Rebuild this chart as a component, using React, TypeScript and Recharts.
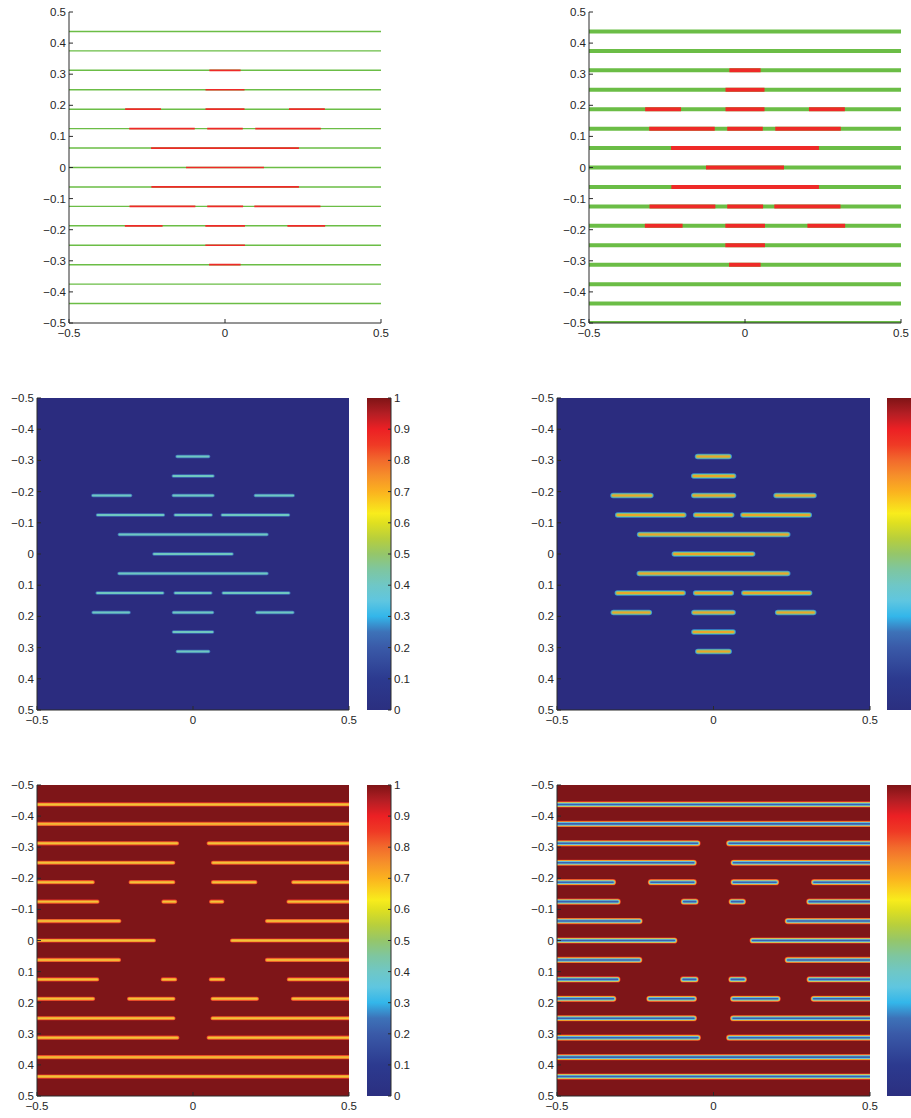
import React from 'react';
import { LineChart, Line, XAxis, YAxis, CartesianGrid } from 'recharts';

// ---- data ----
const rowY = [0.4375, 0.375, 0.3125, 0.25, 0.1875, 0.125, 0.0625, 0, -0.0625, -0.125, -0.1875, -0.25, -0.3125, -0.375, -0.4375];
const edgeRowY = [-0.5];
const segY = [0.3125, 0.25, 0.1875, 0.1875, 0.1875, 0.125, 0.125, 0.125, 0.0625, 0, -0.0625, -0.125, -0.125, -0.125, -0.1875, -0.1875, -0.1875, -0.25, -0.3125];
const segX0 = [-0.05, -0.0625, -0.32, -0.0625, 0.205, -0.307, -0.057, 0.097, -0.237, -0.125, -0.236, -0.306, -0.057, 0.094, -0.321, -0.063, 0.2, -0.063, -0.051];
const segX1 = [0.05, 0.0625, -0.205, 0.0625, 0.32, -0.097, 0.057, 0.307, 0.237, 0.125, 0.237, -0.095, 0.058, 0.306, -0.2, 0.064, 0.321, 0.064, 0.05];
const xTicks = [-0.5, 0, 0.5];
const yTicks = [-0.5, -0.4, -0.3, -0.2, -0.1, 0, 0.1, 0.2, 0.3, 0.4, 0.5];
const cbTicks = [0, 0.1, 0.2, 0.3, 0.4, 0.5, 0.6, 0.7, 0.8, 0.9, 1];
const jetOffsets = [0, 0.1, 0.2, 0.25, 0.3, 0.35, 0.4, 0.45, 0.5, 0.55, 0.6, 0.63, 0.7, 0.75, 0.8, 0.85, 0.9, 0.95, 1];
const jetColors = ['#2b2f80', '#2c3a8f', '#3a5aa8', '#3d72b8', '#33b6ea', '#5fc6e0', '#6fc7c6', '#7ec6a0', '#95c66a', '#b8cf3c', '#e0e020', '#f8ec1c', '#fbb21f', '#f6902a', '#f26a2c', '#ef3a25', '#ec2024', '#b41e24', '#7f1416'];

type Seg = { y: number; x0: number; x1: number };
const redSegs: Seg[] = segY.map((y, i) => ({ y, x0: segX0[i], x1: segX1[i] }));
const fullRows = (ys: number[]): Seg[] => ys.map((y) => ({ y, x0: -0.5, x1: 0.5 }));
const complement = (): Seg[] => {
  const out: Seg[] = [];
  rowY.forEach((y) => {
    const s = redSegs.filter((r) => r.y === y).sort((a, b) => a.x0 - b.x0);
    let cur = -0.5;
    s.forEach((r) => {
      if (r.x0 > cur) out.push({ y, x0: cur, x1: r.x0 });
      cur = r.x1;
    });
    if (cur < 0.5) out.push({ y, x0: cur, x1: 0.5 });
  });
  return out;
};
const toPoints = (segs: Seg[]) => {
  const pts: { x: number; y: number | null }[] = [];
  segs.forEach((s) => {
    pts.push({ x: s.x0, y: s.y });
    pts.push({ x: s.x1, y: s.y });
    pts.push({ x: s.x1, y: null });
  });
  return pts;
};

const fmt = (v: number) => {
  const r = Math.round(v * 10) / 10;
  const s = String(Math.abs(r));
  return r < 0 ? '\u2212' + s : s;
};
const axisColor = '#2a2a2a';
const tickStyle = { fontSize: 11.5, fill: '#262626', fontFamily: 'Liberation Sans, Arial, sans-serif' };

type Layer = { pts: { x: number; y: number | null }[]; color: string; width: number; cap: 'round' | 'butt' };

function Panel({ left, top, w, h, reversed, bg, layers }: { left: number; top: number; w: number; h: number; reversed?: boolean; bg?: string; layers: Layer[] }) {
  const YW = 50, XH = 26, T = 6, R = 14, B = 2;
  return (
    <div style={{ position: 'absolute', left: left - YW, top: top - T }}>
      <LineChart width={YW + w + R} height={T + h + XH + B} margin={{ top: T, right: R, bottom: B, left: 0 }}>
        {bg && <CartesianGrid xAxisId="b" yAxisId="l" horizontal={false} vertical={false} fill={bg} fillOpacity={1} stroke="none" />}
        <XAxis xAxisId="b" dataKey="x" type="number" domain={[-0.5, 0.5]} ticks={xTicks} allowDataOverflow interval={0}
          tickSize={-4} tickMargin={10} height={XH} tick={tickStyle} tickFormatter={fmt} stroke={axisColor} />
        <XAxis xAxisId="t" orientation="top" type="number" domain={[-0.5, 0.5]} ticks={xTicks} allowDataOverflow interval={0}
          height={0} tick={false} tickSize={-4} stroke={axisColor} />
        <YAxis yAxisId="l" type="number" domain={[-0.5, 0.5]} ticks={yTicks} reversed={reversed} allowDataOverflow interval={0}
          width={YW} tickSize={-4} tickMargin={7} tick={tickStyle} tickFormatter={fmt} stroke={axisColor} />
        <YAxis yAxisId="r" orientation="right" type="number" domain={[-0.5, 0.5]} ticks={yTicks} reversed={reversed} allowDataOverflow interval={0}
          width={0} tick={false} tickSize={-4} stroke={axisColor} />
        {layers.map((L, i) => (
          <Line key={i} xAxisId="b" yAxisId="l" data={L.pts} dataKey="y" type="linear" stroke={L.color} strokeWidth={L.width}
            strokeLinecap={L.cap} dot={false} activeDot={false} connectNulls={false} isAnimationActive={false} />
        ))}
      </LineChart>
    </div>
  );
}

function Colorbar({ left, top, w, h, id, labels }: { left: number; top: number; w: number; h: number; id: string; labels: boolean }) {
  const T = 6, RW = labels ? 40 : 0, B = 6;
  const cbData = cbTicks.map((v) => ({ v }));
  return (
    <div style={{ position: 'absolute', left, top: top - T }}>
      <LineChart width={w + RW} height={T + h + B} margin={{ top: T, right: 0, bottom: B, left: 0 }} data={cbData}>
        <defs>
          <linearGradient id={id} x1="0" y1="1" x2="0" y2="0">
            {jetOffsets.map((o, i) => (
              <stop key={i} offset={o} stopColor={jetColors[i]} />
            ))}
          </linearGradient>
        </defs>
        <CartesianGrid xAxisId="cb" yAxisId="cbr" horizontal={false} vertical={false} fill={`url(#${id})`} fillOpacity={1} stroke="none" />
        <XAxis xAxisId="cb" dataKey="v" type="number" domain={[0, 1]} height={0} tick={false} tickLine={false} stroke={axisColor} />
        <XAxis xAxisId="cbt" orientation="top" dataKey="v" type="number" domain={[0, 1]} height={0} tick={false} tickLine={false} stroke={axisColor} />
        <YAxis yAxisId="cbl" type="number" dataKey="v" domain={[0, 1]} width={0} tick={false} tickLine={false} stroke={axisColor} />
        <YAxis yAxisId="cbr" orientation="right" type="number" dataKey="v" domain={[0, 1]} ticks={cbTicks} interval={0} width={RW}
          tickSize={-3} tickMargin={6} tick={labels ? tickStyle : false} tickFormatter={fmt} stroke={axisColor} />
        <Line xAxisId="cb" yAxisId="cbr" dataKey="v" stroke="none" dot={false} activeDot={false} isAnimationActive={false} />
        <Line xAxisId="cbt" yAxisId="cbl" dataKey="v" stroke="none" dot={false} activeDot={false} isAnimationActive={false} />
      </LineChart>
    </div>
  );
}

export default function App() {
  const red = toPoints(redSegs);
  const comp = toPoints(complement());
  const green = toPoints(fullRows(rowY));
  const greenR = toPoints(fullRows([...rowY, ...edgeRowY]));
  const blue = '#2b2c7f';
  const dred = '#7e1518';
  return (
    <div style={{ position: 'absolute', left: 0, top: 0, width: 911, height: 1118, overflow: 'hidden', background: '#fff' }}>
      <Panel left={69} top={12} w={312} h={311} layers={[
        { pts: green, color: '#6bbd46', width: 1.4, cap: 'butt' },
        { pts: red, color: '#ee2a27', width: 1.7, cap: 'butt' },
      ]} />
      <Panel left={589} top={12} w={312} h={311} layers={[
        { pts: greenR, color: '#6bbd46', width: 4, cap: 'butt' },
        { pts: red, color: '#ee2a27', width: 4, cap: 'butt' },
      ]} />
      <Panel left={37} top={398} w={312} h={312} reversed bg={blue} layers={[
        { pts: red, color: '#3f6fb8', width: 3.6, cap: 'round' },
        { pts: red, color: '#6ec8c0', width: 1.8, cap: 'round' },
      ]} />
      <Colorbar left={367} top={398} w={24} h={312} id="jet1" labels />
      <Panel left={557} top={398} w={313} h={312} reversed bg={blue} layers={[
        { pts: red, color: '#3a8fd2', width: 5.6, cap: 'round' },
        { pts: red, color: '#86c47c', width: 4.0, cap: 'round' },
        { pts: red, color: '#eaa52a', width: 2.2, cap: 'round' },
      ]} />
      <Colorbar left={887} top={398} w={24} h={312} id="jet2" labels={false} />
      <Panel left={37} top={785} w={312} h={311} reversed bg={dred} layers={[
        { pts: comp, color: '#e5342a', width: 4.2, cap: 'round' },
        { pts: comp, color: '#f3952a', width: 3.0, cap: 'round' },
        { pts: comp, color: '#f2c23a', width: 1.4, cap: 'round' },
      ]} />
      <Colorbar left={367} top={785} w={24} h={311} id="jet3" labels />
      <Panel left={557} top={785} w={313} h={311} reversed bg={dred} layers={[
        { pts: comp, color: '#e8382a', width: 6.2, cap: 'round' },
        { pts: comp, color: '#f2c02e', width: 5.0, cap: 'round' },
        { pts: comp, color: '#68c0d8', width: 3.6, cap: 'round' },
        { pts: comp, color: '#3a62b0', width: 1.6, cap: 'round' },
      ]} />
      <Colorbar left={887} top={785} w={24} h={311} id="jet4" labels={false} />
    </div>
  );
}
